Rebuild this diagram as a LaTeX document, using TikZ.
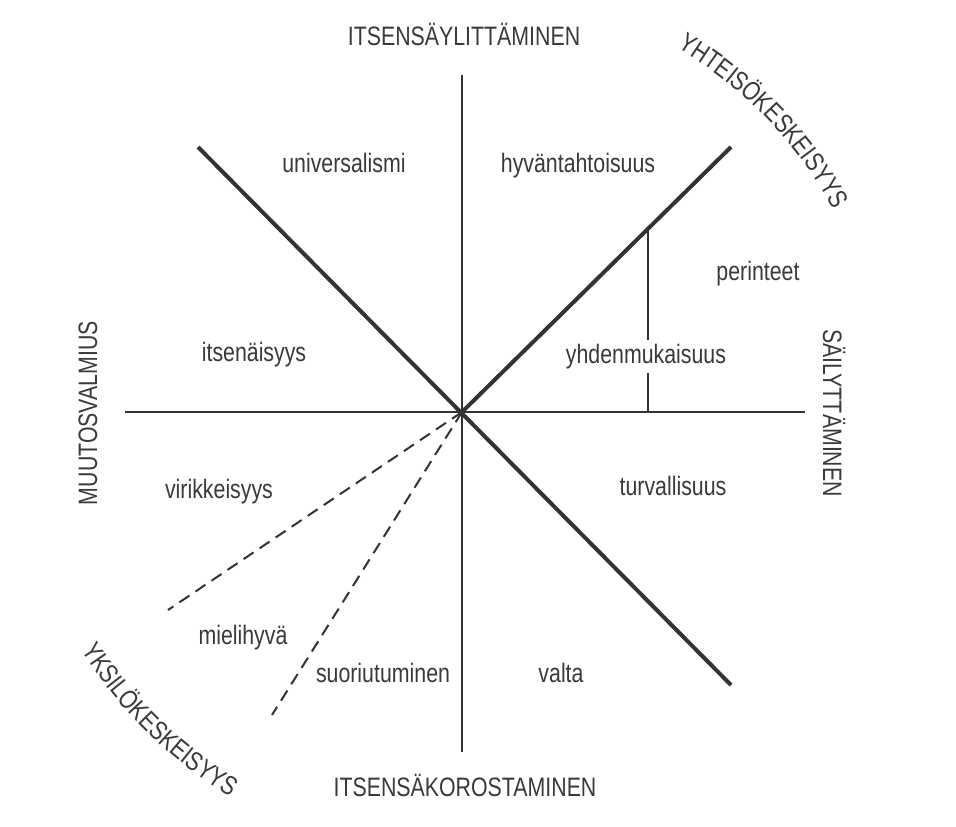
\documentclass[tikz,border=0pt]{standalone}
\usepackage{fontspec}
\setmainfont{Liberation Sans}[FakeStretch=0.8]
\usetikzlibrary{decorations.text}
\definecolor{ink}{HTML}{3A3A3A}
\definecolor{linecol}{HTML}{333333}
\begin{document}
\begin{tikzpicture}[x=0.75pt,y=-0.75pt,
  lbl/.style={font=\fontsize{20}{24}\selectfont, text=ink, inner sep=0pt, anchor=base},
  thinline/.style={draw=linecol, line width=1.3pt},
  thickline/.style={draw=linecol, line width=3pt},
  dashline/.style={draw=linecol, line width=1.5pt, dash pattern=on 9pt off 5.5pt}]
\fill[white] (0,0) rectangle (956,826);
\useasboundingbox (0,0) rectangle (956,826);

% named points
\coordinate (O) at (462,412);
\coordinate (Vt) at (462,75);
\coordinate (Vb) at (462,752);
\coordinate (Hl) at (125,412);
\coordinate (Hr) at (805,412);
\coordinate (D1a) at (198,147);
\coordinate (D1b) at (731,685);
\coordinate (D2) at (731,147);
\coordinate (Pt) at (648,229);
\coordinate (Pb) at (648,412);
\coordinate (E1) at (168,610);
\coordinate (E2) at (272,715);

% axes
\draw[thinline] (Vt) -- (Vb);
\draw[thinline] (Hl) -- (Hr);
\draw[thinline] (Pt) -- (Pb);
% diagonals
\draw[thickline] (D1a) -- (D1b);
\draw[thickline] (O) -- (D2);
% dashed
\draw[dashline] (O) -- (E1);
\draw[dashline] (O) -- (E2);

% axis labels
\node[lbl] (top) at (464,45) {ITSENSÄYLITTÄMINEN};
\node[lbl] (bot) at (465,796) {ITSENSÄKOROSTAMINEN};
\node[lbl, rotate=90] (left) at (97,413) {MUUTOSVALMIUS};
\node[lbl, rotate=-90] (right) at (823,413) {SÄILYTTÄMINEN};

% value labels
\node[lbl] (univ) at (344,172) {universalismi};
\node[lbl] (hyv) at (578,172) {hyväntahtoisuus};
\node[lbl] (per) at (758,280) {perinteet};
\node[lbl, fill=white, inner sep=3pt] (yhd) at (646,363) {yhdenmukaisuus};
\node[lbl] (its) at (254,361) {itsenäisyys};
\node[lbl] (vir) at (219,498) {virikkeisyys};
\node[lbl] (turv) at (673,495) {turvallisuus};
\node[lbl] (miel) at (243,644) {mielihyvä};
\node[lbl] (suor) at (383,682) {suoriutuminen};
\node[lbl] (valta) at (561,682) {valta};

% curved labels
\begin{scope}[shift={(462,412)}, y=0.75pt]
  \path[decorate, decoration={text along path, text align=center,
     text={|\fontsize{20}{24}\selectfont\color{ink}|YHTEISÖKESKEISYYS}}]
     (64:423) arc[start angle=64, end angle=24, radius=423];
  \path[decorate, decoration={text along path, text align=center,
     text={|\fontsize{20}{24}\selectfont\color{ink}|YKSILÖKESKEISYYS}}]
     (205:449) arc[start angle=205, end angle=246, radius=449];
\end{scope}
\end{tikzpicture}
\end{document}
